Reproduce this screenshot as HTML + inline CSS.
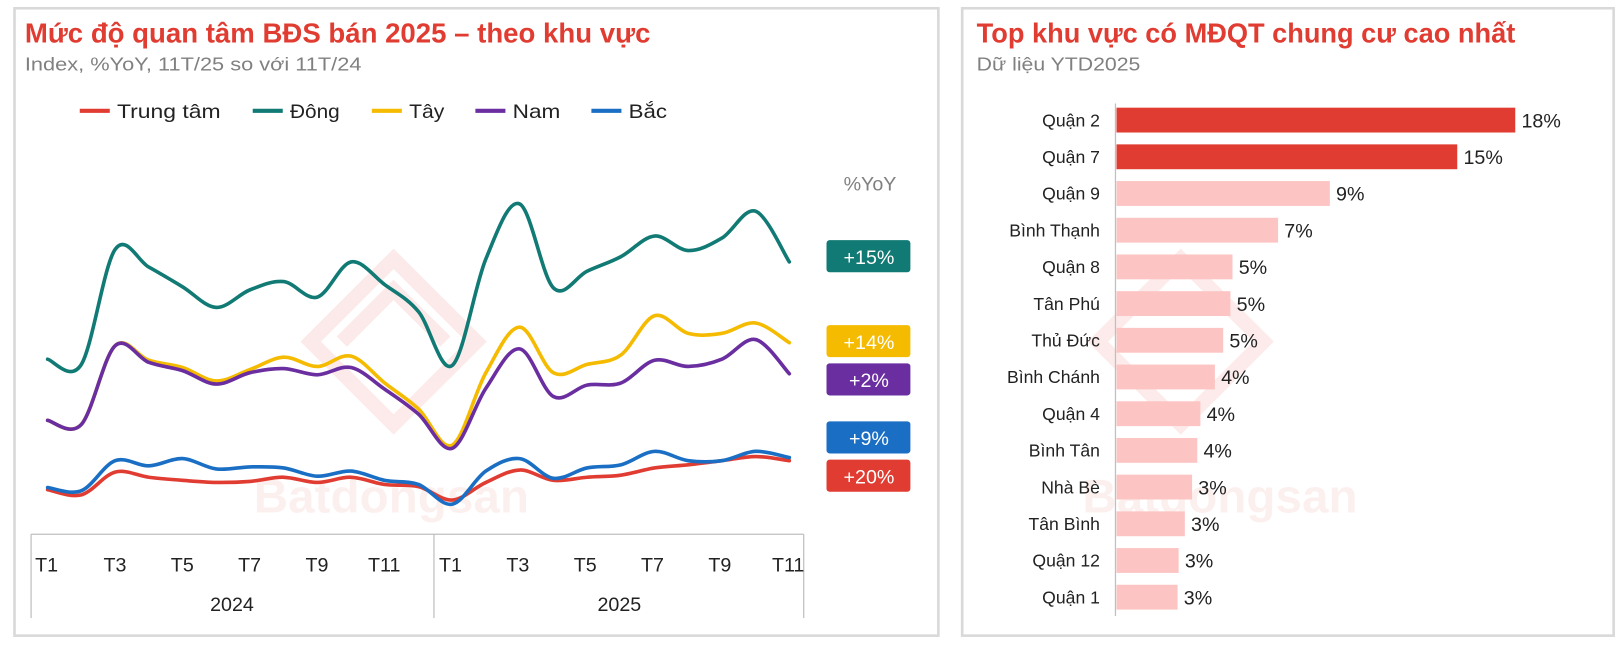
<!DOCTYPE html>
<html><head><meta charset="utf-8"><style>
html,body{margin:0;padding:0;background:#fff;}
svg text{font-family:"Liberation Sans","Noto Sans CJK SC",sans-serif;}
</style></head><body>
<svg id="s" width="1624" height="646" viewBox="0 0 1568 624" preserveAspectRatio="none" xmlns="http://www.w3.org/2000/svg">
<rect x="0" y="0" width="1568" height="624" fill="#fff"/>
<rect x="14" y="8" width="892" height="606" fill="none" stroke="#d9d9d9" stroke-width="2.5"/>
<rect x="929" y="8" width="629" height="606" fill="none" stroke="#d9d9d9" stroke-width="2.5"/>
<text x="24" y="41" font-size="27" font-weight="bold" fill="#e03c31" textLength="604" lengthAdjust="spacingAndGlyphs">Mức độ quan tâm BĐS bán 2025 – theo khu vực</text>
<text x="24" y="68" font-size="18" fill="#808080" textLength="325" lengthAdjust="spacingAndGlyphs">Index, %YoY, 11T/25 so với 11T/24</text>
<g font-size="19" fill="#222">
<line x1="77" y1="107" x2="106" y2="107" stroke="#e03c31" stroke-width="4"/><text x="113" y="114" textLength="100" lengthAdjust="spacingAndGlyphs">Trung tâm</text>
<line x1="244" y1="107" x2="273" y2="107" stroke="#117a74" stroke-width="4"/><text x="280" y="114" textLength="48" lengthAdjust="spacingAndGlyphs">Đông</text>
<line x1="359" y1="107" x2="388" y2="107" stroke="#f5bb00" stroke-width="4"/><text x="395" y="114" textLength="34" lengthAdjust="spacingAndGlyphs">Tây</text>
<line x1="459" y1="107" x2="488" y2="107" stroke="#6a2ea0" stroke-width="4"/><text x="495" y="114" textLength="46" lengthAdjust="spacingAndGlyphs">Nam</text>
<line x1="571" y1="107" x2="600" y2="107" stroke="#1a6fc4" stroke-width="4"/><text x="607" y="114" textLength="37" lengthAdjust="spacingAndGlyphs">Bắc</text>
</g>
<g opacity="0.10" fill="none" stroke="#e03c31" stroke-width="14">
<path d="M300 330 L380 250 L460 330 L380 410 Z"/>
<path d="M330 330 L380 280 L430 330"/>
</g>
<text x="245" y="495" font-size="46" font-weight="bold" fill="#e03c31" opacity="0.07">Batdongsan</text>
<g stroke="#bfbfbf" stroke-width="1.2">
<line x1="30" y1="516" x2="776" y2="516"/>
<line x1="30" y1="516" x2="30" y2="597"/>
<line x1="419" y1="516" x2="419" y2="597"/>
<line x1="776" y1="516" x2="776" y2="597"/>
</g>
<g font-size="19" fill="#222" text-anchor="middle">
<text x="45" y="552">T1</text><text x="111" y="552">T3</text><text x="176" y="552">T5</text><text x="241" y="552">T7</text><text x="306" y="552">T9</text><text x="371" y="552">T11</text>
<text x="435" y="552">T1</text><text x="500" y="552">T3</text><text x="565" y="552">T5</text><text x="630" y="552">T7</text><text x="695" y="552">T9</text><text x="761" y="552">T11</text>
<text x="224" y="590">2024</text><text x="598" y="590">2025</text>
</g>
<g id="lines" fill="none" stroke-width="3.5" stroke-linejoin="round" stroke-linecap="round"></g>
<text x="840" y="184" font-size="19" fill="#808080" text-anchor="middle">%YoY</text>
<g font-size="19" fill="#fff" text-anchor="middle">
<rect x="798" y="232" width="81" height="31" rx="3" fill="#117a74"/><text x="839" y="255">+15%</text>
<rect x="798" y="314" width="81" height="31" rx="3" fill="#f5bb00"/><text x="839" y="337">+14%</text>
<rect x="798" y="351" width="81" height="31" rx="3" fill="#6a2ea0"/><text x="839" y="374">+2%</text>
<rect x="798" y="407" width="81" height="31" rx="3" fill="#1a6fc4"/><text x="839" y="430">+9%</text>
<rect x="798" y="444" width="81" height="31" rx="3" fill="#e03c31"/><text x="839" y="467">+20%</text>
</g>
<text x="943" y="41" font-size="27" font-weight="bold" fill="#e03c31" textLength="520" lengthAdjust="spacingAndGlyphs">Top khu vực có MĐQT chung cư cao nhất</text>
<text x="943" y="68" font-size="18" fill="#808080" textLength="158" lengthAdjust="spacingAndGlyphs">Dữ liệu YTD2025</text>
<g opacity="0.10" fill="none" stroke="#e03c31" stroke-width="14">
<path d="M1060 330 L1140 250 L1220 330 L1140 410 Z"/>
</g>
<text x="1045" y="495" font-size="46" font-weight="bold" fill="#e03c31" opacity="0.07">Batdongsan</text>
<g id="bars" font-size="18" fill="#222"></g>
<line x1="1077" y1="100" x2="1077" y2="595" stroke="#bfbfbf" stroke-width="1.2"/>
</svg>
<script>
var xs=[];for(var i=0;i<23;i++)xs.push(46+i*32.55);
var S={
"#117a74":[347,352,241,258,277,297,280,272,287,253,275,301,353,250,197,278,262,248,228,242,230,204,253],
"#f5bb00":[406,410,334,348,355,368,357,345,354,344,370,395,430,360,316,360,352,343,305,322,322,312,331],
"#6a2ea0":[406,410,334,350,358,371,360,356,362,355,376,400,433,375,337,383,372,370,348,354,347,328,361],
"#e03c31":[473,478,456,461,464,466,465,461,466,461,468,470,483,466,454,464,461,459,452,449,445,441,445],
"#1a6fc4":[471,474,445,450,443,453,451,452,460,455,464,468,487,455,443,462,452,449,436,445,445,436,442]};
var g=document.getElementById('lines'),ns="http://www.w3.org/2000/svg";
for(var c in S){var y=S[c],d="M"+xs[0]+" "+y[0];
for(var i=0;i<22;i++){var p0=i?i-1:0,p3=i+2<23?i+2:22;
var c1x=xs[i]+(xs[i+1]-xs[p0])/6,c1y=y[i]+(y[i+1]-y[p0])/6,c2x=xs[i+1]-(xs[p3]-xs[i])/6,c2y=y[i+1]-(y[p3]-y[i])/6;
d+=" C"+c1x+" "+c1y+" "+c2x+" "+c2y+" "+xs[i+1]+" "+y[i+1];}
var p=document.createElementNS(ns,"path");p.setAttribute("d",d);p.setAttribute("stroke",c);g.appendChild(p);}
var B=[["Quận 2",1463,"18%"],["Quận 7",1407,"15%"],["Quận 9",1284,"9%"],["Bình Thạnh",1234,"7%"],["Quận 8",1190,"5%"],["Tân Phú",1188,"5%"],["Thủ Đức",1181,"5%"],["Bình Chánh",1173,"4%"],["Quận 4",1159,"4%"],["Bình Tân",1156,"4%"],["Nhà Bè",1151,"3%"],["Tân Bình",1144,"3%"],["Quận 12",1138,"3%"],["Quận 1",1137,"3%"]];
var bg=document.getElementById('bars');
B.forEach(function(b,i){var cy=116+i*35.45;
var r=document.createElementNS(ns,"rect");r.setAttribute("x",1078);r.setAttribute("y",cy-12);r.setAttribute("width",b[1]-1078);r.setAttribute("height",24);r.setAttribute("fill",i<2?"#e03c31":"#fcc5c3");bg.appendChild(r);
var t=document.createElementNS(ns,"text");t.setAttribute("x",1062);t.setAttribute("y",cy+6);t.setAttribute("text-anchor","end");t.setAttribute("font-size","17");t.textContent=b[0];bg.appendChild(t);
var v=document.createElementNS(ns,"text");v.setAttribute("x",b[1]+6);v.setAttribute("y",cy+7);v.setAttribute("font-size","19");v.textContent=b[2];bg.appendChild(v);});
</script>
</body></html>
